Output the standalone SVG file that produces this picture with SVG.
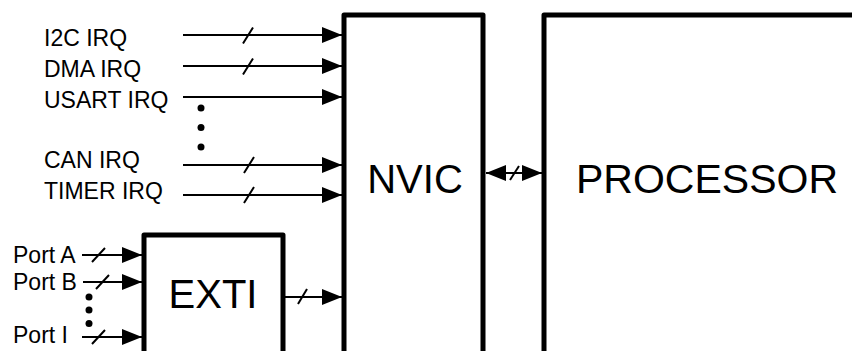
<svg xmlns="http://www.w3.org/2000/svg" width="852" height="351" viewBox="0 0 852 351">
<defs>
<style>
.box{fill:#fff;stroke:#000;stroke-width:5;stroke-linejoin:round}
.big{font-family:"Liberation Sans",Arial,sans-serif;font-size:40px;text-anchor:middle;fill:#000}
.lbl{font-family:"Liberation Sans",Arial,sans-serif;font-size:23px;fill:#000}
.wire{stroke:#000;stroke-width:2;fill:none}
.slash{stroke:#000;stroke-width:2;fill:none}
.dot{fill:#000}
</style>
<marker id="ah" viewBox="0 0 20 16" refX="20" refY="8" markerWidth="20" markerHeight="16" markerUnits="userSpaceOnUse" orient="auto-start-reverse">
<path d="M0,0 L20,8 L0,16 Z" fill="#000"/>
</marker>
</defs>
<rect width="852" height="351" fill="#fff"/>

<g id="nvic">
<path class="box" d="M344,360 V15 H483 V360"/>
<text class="big" x="415" y="193">NVIC</text>
</g>
<g id="processor">
<path class="box" d="M544,360 V15 H870"/>
<text class="big" x="707" y="193" style="font-size:41px">PROCESSOR</text>
</g>
<g id="exti">
<path class="box" d="M144,360 V235 H283 V360"/>
<text class="big" x="213" y="308">EXTI</text>
</g>

<g id="i2c"><text class="lbl" x="44" y="46">I2C IRQ</text></g>
<g id="dma"><text class="lbl" x="44" y="77">DMA IRQ</text></g>
<g id="usart"><text class="lbl" x="44" y="108">USART IRQ</text></g>
<g id="can"><text class="lbl" x="44" y="168">CAN IRQ</text></g>
<g id="timer"><text class="lbl" x="44" y="199">TIMER IRQ</text></g>
<g id="porta"><text class="lbl" x="13" y="263">Port A</text></g>
<g id="portb"><text class="lbl" x="13" y="290">Port B</text></g>
<g id="porti"><text class="lbl" x="13" y="343">Port I</text></g>

<g id="connectors">
<line class="wire" x1="183" y1="35" x2="342" y2="35" marker-end="url(#ah)"/>
<line class="wire" x1="183" y1="66" x2="342" y2="66" marker-end="url(#ah)"/>
<line class="wire" x1="183" y1="97" x2="342" y2="97" marker-end="url(#ah)"/>
<line class="wire" x1="183" y1="165" x2="342" y2="165" marker-end="url(#ah)"/>
<line class="wire" x1="183" y1="195" x2="342" y2="195" marker-end="url(#ah)"/>
<path class="slash" d="M243,43.5 L253,27.5 M243,74.5 L253,58.5 M244,173 L254,157 M244,203 L254,187"/>
<circle class="dot" cx="201" cy="108" r="3.5"/>
<circle class="dot" cx="201" cy="127.5" r="3.5"/>
<circle class="dot" cx="201" cy="147" r="3.5"/>

<line class="wire" x1="82" y1="255" x2="142" y2="255" marker-end="url(#ah)"/>
<line class="wire" x1="83" y1="282" x2="142" y2="282" marker-end="url(#ah)"/>
<line class="wire" x1="82" y1="337" x2="142" y2="337" marker-end="url(#ah)"/>
<path class="slash" d="M92,262 L105,248 M96,289 L109,275 M92,344 L105,330"/>
<circle class="dot" cx="89" cy="297" r="3.5"/>
<circle class="dot" cx="89" cy="310" r="3.5"/>
<circle class="dot" cx="89" cy="323.5" r="3.5"/>

<line class="wire" x1="285" y1="297" x2="342" y2="297" marker-end="url(#ah)"/>
<path class="slash" d="M298,304 L307,289"/>

<line class="wire" x1="486" y1="173" x2="542" y2="173" marker-start="url(#ah)" marker-end="url(#ah)"/>
<path class="slash" d="M510,180 L519,166"/>
</g>
</svg>
